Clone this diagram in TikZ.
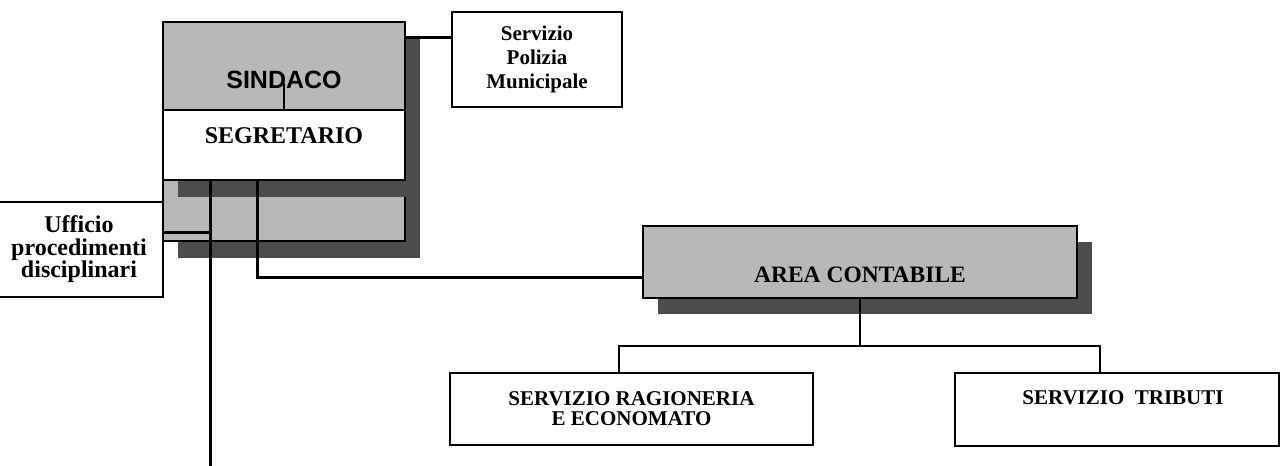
\documentclass[tikz,border=0pt]{standalone}
\usepackage{fontspec}
\setmainfont{Liberation Serif}
\newfontfamily\sindacofont{Liberation Sans}
\usepackage{tikz}
\usetikzlibrary{shadows}
\definecolor{grigio}{gray}{0.72}
\definecolor{ombra}{gray}{0.3}

\begin{document}
\begin{tikzpicture}[x=1pt,y=-1pt,
  blocco/.style={draw,line width=2pt,inner sep=0pt,align=center,font=\bfseries\fontsize{21}{24}\selectfont},
  ombreggiato/.style={drop shadow={shadow xshift=15pt,shadow yshift=-17pt,fill=ombra,opacity=1}},
  linea/.style={line width=3pt},
  ramo/.style={line width=2pt}]
\useasboundingbox (0,0) rectangle (1283,466);
\node[blocco,ombreggiato,fill=grigio,minimum width=242pt,minimum height=219pt] (cornice) at (284,131.5) {};
\node[inner sep=0pt,anchor=base,font=\sindacofont\bfseries\fontsize{25}{25}\selectfont] (sindaco) at (284,88) {SINDACO};
\node[blocco,ombreggiato,fill=white,minimum width=242pt,text height=33pt,text depth=37pt,font=\bfseries\fontsize{24}{24}\selectfont] (segretario) at (284,145) {SEGRETARIO};
\node[blocco,fill=white,minimum width=170pt,minimum height=95pt] (polizia) at (537,59.5) {Servizio\\Polizia\\Municipale};
\node[blocco,fill=white,minimum width=168pt,minimum height=95pt,font=\bfseries\fontsize{24}{22.5}\selectfont] (ufficio) at (79,249.5) {Ufficio\\procedimenti\\disciplinari};
\node[blocco,fill=grigio,drop shadow={shadow xshift=15pt,shadow yshift=-16pt,fill=ombra,opacity=1},minimum width=434pt,text height=56pt,text depth=16pt,font=\bfseries\fontsize{23.5}{23.5}\selectfont] (area) at (860,262) {AREA CONTABILE};
\node[blocco,minimum width=363pt,minimum height=72pt,font=\bfseries\fontsize{21}{20}\selectfont] (ragioneria) at (631.5,409) {SERVIZIO RAGIONERIA\\E ECONOMATO};
\node[blocco,minimum width=324pt,text height=31pt,text depth=42pt] (tributi) at (1117,409.5) {\hspace*{12pt}SERVIZIO~~TRIBUTI};
\coordinate (attacco) at ([yshift=-16pt]cornice.north east);
\coordinate (fondo) at (210,466);
\coordinate (innesto) at (210,232);
\coordinate (gomito) at (257,277);
\coordinate (nodo) at (860,346);
\coordinate (nodoA) at (619,346);
\coordinate (nodoB) at (1100,346);
\draw[line width=1.5pt] ([yshift=5pt]sindaco.south) -- (segretario.north);
\draw[linea] (attacco) -- (polizia.west |- attacco);
\draw[linea] (segretario.south -| fondo) -- (fondo);
\draw[linea] (ufficio.east |- innesto) -- (innesto);
\draw[linea] (segretario.south -| gomito) -- (gomito) -- (area.west |- gomito);
\draw[ramo] (area.south) -- (nodo);
\draw[ramo] (ragioneria.north -| nodoA) -- (nodoA) -- (nodoB) -- (tributi.north -| nodoB);
\end{tikzpicture}
\end{document}
